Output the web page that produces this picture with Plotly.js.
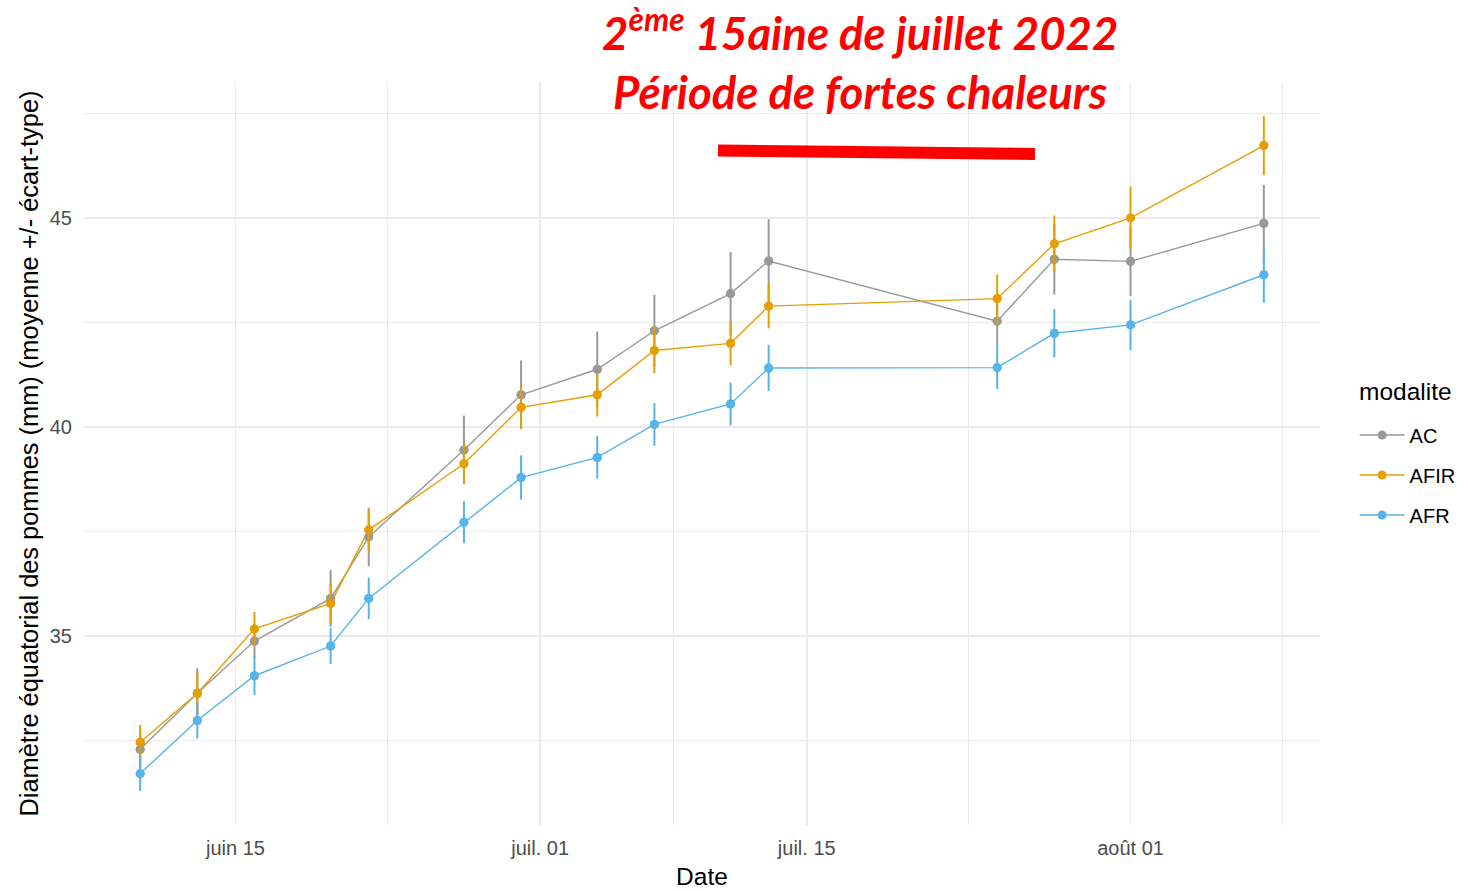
<!DOCTYPE html>
<html>
<head>
<meta charset="utf-8">
<script src="https://cdn.plot.ly/plotly-3.0.1.min.js"></script>
<style>html,body{margin:0;padding:0;background:#fff;}#chart{width:1468px;height:891px;}</style>
</head>
<body>
<div id="chart"></div>
<script>
const dates = ['2022-06-10','2022-06-13','2022-06-16','2022-06-20','2022-06-22','2022-06-27','2022-06-30','2022-07-04','2022-07-07','2022-07-11','2022-07-13','2022-07-25','2022-07-28','2022-08-01','2022-08-08'];
const seriesNames = ['AC','AFIR','AFR'];
const acMean   = [32.29,33.63,34.88,35.90,37.37,39.45,40.77,41.38,42.30,43.19,43.97,42.53,44.01,43.96,44.87];
const acSd     = [0.45,0.60,0.40,0.68,0.70,0.82,0.82,0.90,0.86,0.99,1.00,0.60,0.84,0.83,0.92];
const afirMean = [32.46,33.63,35.17,35.78,37.54,39.12,40.47,40.77,41.83,42.00,42.89,43.07,44.38,45.00,46.73];
const afirSd   = [0.41,0.50,0.41,0.48,0.50,0.47,0.50,0.52,0.55,0.52,0.53,0.58,0.68,0.75,0.71];
const afrMean  = [31.71,32.98,34.05,34.76,35.90,37.72,38.79,39.27,40.06,40.55,41.41,41.42,42.24,42.44,43.64];
const afrSd    = [0.42,0.43,0.46,0.43,0.50,0.50,0.53,0.51,0.51,0.51,0.55,0.51,0.58,0.60,0.67];
const xTickVals = ['2022-06-15','2022-07-01','2022-07-15','2022-08-01'];
const xTickText = ['juin 15','juil. 01','juil. 15','août 01'];
const xMinorVals = ['2022-06-07','2022-06-23','2022-07-08','2022-07-23 12:00','2022-08-09'];
const yTickVals = [35,40,45];
const yMinorVals = [32.5,37.5,42.5,47.5];
const titleText = '2<sup>ème</sup> 15aine de juillet 2022<br>Période de fortes chaleurs';
const legendTitle = 'modalite';

const colors = ['#999999','#E69F00','#56B4E9'];
const means = [acMean, afirMean, afrMean];
const sds = [acSd, afirSd, afrSd];

const traces = [];
for (let i = 0; i < 3; i++) {
  traces.push({
    type:'scatter', mode:'lines+markers', x: dates, y: means[i], name: seriesNames[i],
    line:{color:colors[i], width:1.4}, marker:{color:colors[i], size:9},
    legendgroup: seriesNames[i], hoverinfo:'skip'
  });
}
for (let i = 0; i < 3; i++) {
  traces.push({
    type:'scatter', mode:'markers', x: dates, y: means[i], name: seriesNames[i],
    marker:{color:colors[i], size:9}, showlegend:false, legendgroup: seriesNames[i],
    error_y:{type:'data', array: sds[i], visible:true, color:colors[i], thickness:2, width:0}
  });
}

const gridColor = '#EBEBEB';
const W = 1236, H = 743, L = 84, T = 82;
const px = v => (v - L) / W;
const py = v => (T + H - v) / H;

const layout = {
  width:1468, height:891,
  margin:{l:84, r:148, t:82, b:66, autoexpand:false},
  paper_bgcolor:'#fff', plot_bgcolor:'#fff',
  font:{family:'"Liberation Sans", Arial, sans-serif', color:'#000'},
  xaxis:{
    type:'date',
    range:['2022-06-07 01:12','2022-08-10 22:48'],
    tickmode:'array', tickvals:xTickVals, ticktext:xTickText,
    tickfont:{size:20, color:'#4D4D4D'},
    showgrid:true, gridcolor:gridColor, gridwidth:1.6,
    minor:{tickmode:'array', tickvals:xMinorVals, showgrid:true, gridcolor:gridColor, gridwidth:1.2, ticks:''},
    ticks:'', zeroline:false, showline:false,
    ticklabelstandoff:9,
    title:{text:'Date', font:{size:24.5, color:'#000'}, standoff:9}
  },
  yaxis:{
    range:[30.48,48.25],
    tickmode:'array', tickvals:yTickVals,
    tickfont:{size:20, color:'#4D4D4D'},
    showgrid:true, gridcolor:gridColor, gridwidth:1.6,
    minor:{tickmode:'array', tickvals:yMinorVals, showgrid:true, gridcolor:gridColor, gridwidth:1.2, ticks:''},
    ticks:'', zeroline:false, showline:false,
    ticklabelstandoff:11,
    title:{text:'Diamètre équatorial des pommes (mm) (moyenne +/- écart-type)', font:{size:25.4, color:'#000'}, standoff:3}
  },
  legend:{
    font:{size:20, color:'#000'},
    x:1.028, xanchor:'left', y:py(475), yanchor:'middle',
    itemwidth:45,
    tracegroupgap:11, bgcolor:'rgba(0,0,0,0)'
  },
  annotations:[{
    text:titleText, xref:'paper', yref:'paper', x:px(860), y:py(59), xanchor:'center', yanchor:'middle',
    showarrow:false, align:'center',
    font:{family:'Lato, "Open Sans", sans-serif', size:45.5, color:'#FF0000', weight:'bold', style:'italic'}
  },{
    text:legendTitle, xref:'paper', yref:'paper', x:px(1357), y:py(391), xanchor:'left', yanchor:'middle',
    showarrow:false, font:{size:24.5, color:'#000'}
  }],
  shapes:[{
    type:'rect', xref:'paper', yref:'paper', layer:'between',
    x0:px(596), x1:px(1124), y0:py(107), y1:1.01,
    fillcolor:'#ffffff', line:{width:0}
  },{
    type:'line', xref:'paper', yref:'paper',
    x0:px(718), x1:px(1035), y0:py(150.5), y1:py(154),
    line:{color:'#FF0000', width:12}
  }]
};

Plotly.newPlot('chart', traces, layout, {displayModeBar:false, staticPlot:true});
</script>
</body>
</html>
